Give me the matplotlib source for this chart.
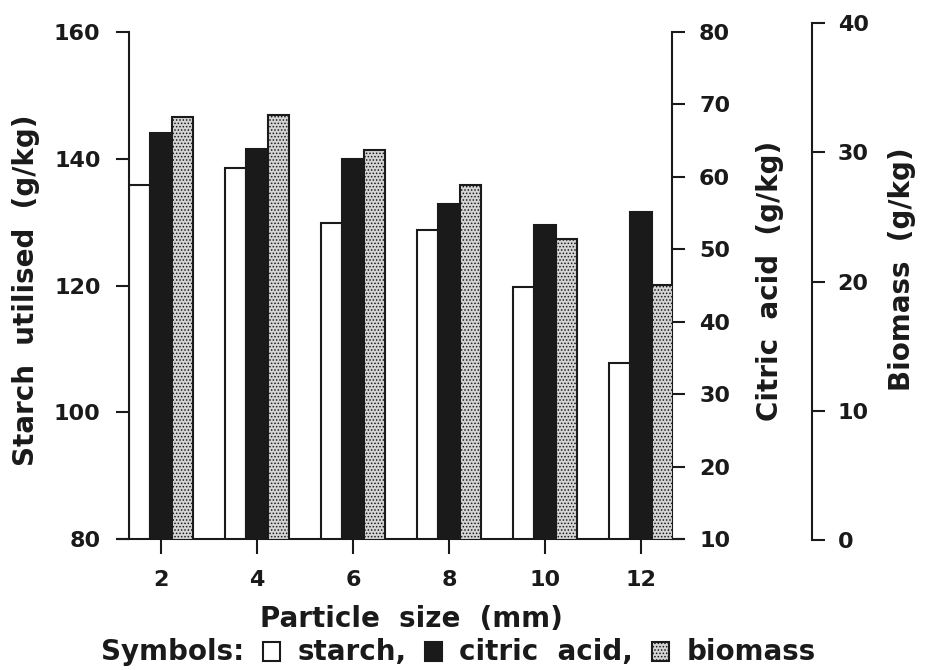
import numpy as np
import matplotlib
matplotlib.use("Agg")
import matplotlib.pyplot as plt
from matplotlib.patches import Rectangle

# values
sizes = [2, 4, 6, 8, 10, 12]
starch = [135.8, 138.5, 129.8, 128.7, 119.7, 107.7]    # g/kg, left axis
citric = [66.1, 63.9, 62.4, 56.3, 53.4, 55.1]          # g/kg, first right axis
biomass = [32.7, 32.9, 30.2, 27.5, 23.3, 19.7]         # g/kg, second right axis

plt.rcParams['font.family'] = ['DejaVu Sans']
plt.rcParams['font.weight'] = 'bold'
plt.rcParams['hatch.linewidth'] = 0.7

ink = '#1a1a1a'
dots = '#d4d4d4'
W, H = 931, 670

def box(l, t, r, b):
    return [l / W, 1 - b / H, (r - l) / W, (b - t) / H]

fig = plt.figure(figsize=(W / 100, H / 100), dpi=100)
ax = fig.add_axes(box(129, 32, 672, 539))
ax2 = ax.twinx()
ax3 = fig.add_axes(box(129, 23, 672, 540), sharex=ax)
ax3.patch.set_visible(False)

x = np.array(sizes, dtype=float)
w = 0.44
ax.bar(x - w, starch, w, facecolor='white', edgecolor=ink, linewidth=1.5)
ax2.bar(x, citric, w, facecolor=ink, edgecolor=ink, linewidth=1.5)
ax3.bar(x + w, biomass, w, facecolor=dots, edgecolor=ink, linewidth=1.5,
        hatch='.....')

ax.set_xlim(1.333, 12.646)
ax.set_ylim(80, 160)
ax2.set_ylim(10, 80)
ax3.set_ylim(0, 40)

ax.set_xticks(sizes)
ax.set_yticks([80, 100, 120, 140, 160])
ax2.set_yticks(range(10, 81, 10))
ax3.set_yticks(range(0, 41, 10))

for a in (ax, ax2, ax3):
    for s in a.spines.values():
        s.set_visible(False)
        s.set_linewidth(1.5)
        s.set_color(ink)

ax.spines['left'].set_visible(True)
ax.spines['bottom'].set_visible(True)
ax.spines['bottom'].set_bounds(1.08, 12.9)
ax2.spines['right'].set_visible(True)
ax3.spines['right'].set_visible(True)
ax3.spines['right'].set_position(('axes', (812 - 129) / (672 - 129)))

ax.tick_params(axis='x', direction='out', length=10.5, width=1.5, color=ink,
               labelsize=16, labelcolor=ink, pad=12)
ax.tick_params(axis='y', direction='out', length=9.5, width=1.5, color=ink,
               labelsize=16, labelcolor=ink, pad=11)
ax2.tick_params(axis='y', direction='out', length=9.5, width=1.5, color=ink,
                labelsize=16, labelcolor=ink, pad=10)
ax3.tick_params(axis='y', left=False, labelleft=False, right=True, labelright=True,
                direction='out', length=9.5, width=1.5, color=ink,
                labelsize=16, labelcolor=ink, pad=9)
ax3.tick_params(axis='x', bottom=False, labelbottom=False)

lab = dict(fontsize=20, color=ink, ha='center', va='center', rotation=90)
fig.text(26 / W, 1 - 290 / H, 'Starch  utilised  (g/kg)', **lab)
fig.text(770 / W, 1 - 281 / H, 'Citric  acid  (g/kg)', **lab)
fig.text(902 / W, 1 - 269 / H, 'Biomass  (g/kg)', **lab)
fig.text(411 / W, 1 - 627 / H, 'Particle  size  (mm)', fontsize=20, color=ink,
         ha='center', va='baseline')

# key line under the chart: text pieces with little boxes between them
fig.canvas.draw()
r = fig.canvas.get_renderer()
base = 1 - 660 / H
px = 101
pieces = ['Symbols:', ('white', None), 'starch,', (ink, None),
          'citric  acid,', (dots, '.....'), 'biomass']
for p in pieces:
    if isinstance(p, str):
        t = fig.text(px / W, base, p, fontsize=20, color=ink, ha='left', va='baseline')
        px = t.get_window_extent(r).x1 + 19
    else:
        fc, hatch = p
        fig.patches.append(Rectangle((px / W, 1 - 661 / H), 17 / W, 19 / H,
                                     transform=fig.transFigure, facecolor=fc,
                                     edgecolor=ink, linewidth=1.5, hatch=hatch))
        px += 17 + 17

fig.savefig('out.png', dpi=100)
